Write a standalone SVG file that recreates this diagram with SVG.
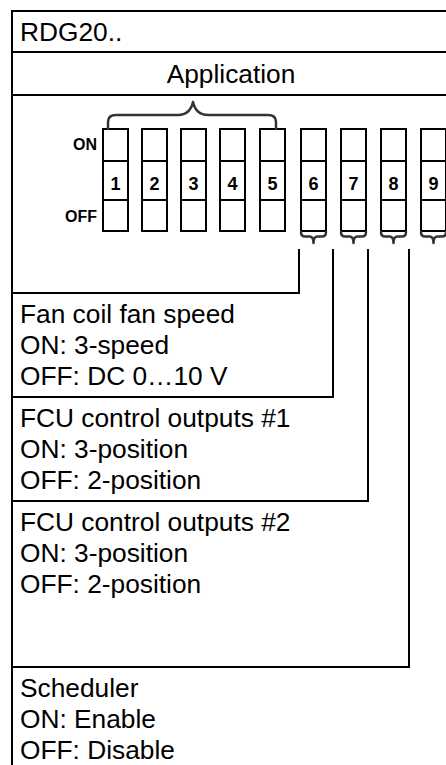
<svg xmlns="http://www.w3.org/2000/svg" width="446" height="765" viewBox="0 0 446 765">
<style>
.t{font-family:"Liberation Sans",Arial,sans-serif;font-size:26.3px;fill:#000}
.b{font-family:"Liberation Sans",Arial,sans-serif;font-weight:bold;fill:#000}
.sw{fill:#fff;stroke:#000;stroke-width:2}
.ln{fill:none;stroke:#000;stroke-width:2}
.br{fill:none;stroke:#333;stroke-width:2.5;stroke-linejoin:round;stroke-linecap:round}
</style>
<defs>
<g id="sw">
<rect class="sw" x="0" y="0" width="25" height="102"/>
<line class="ln" x1="0" y1="32" x2="25" y2="32"/>
<line class="ln" x1="0" y1="71" x2="25" y2="71"/>
</g>
<path id="sb" class="br" d="M0,0 Q0,4.5 4,4.5 H8.5 Q12.5,4.5 12.5,11 Q12.5,4.5 16.5,4.5 H21 Q25,4.5 25,0"/>
</defs>
<rect width="446" height="765" fill="#fff"/>
<g id="frame">
<path class="ln" d="M12,765 V11 H447"/>
<line class="ln" x1="12" y1="52" x2="447" y2="52"/>
<line class="ln" x1="12" y1="95" x2="447" y2="95"/>
</g>
<g id="title"><text class="t" x="20" y="41">RDG20..</text></g>
<g id="application"><text class="t" x="231" y="83" text-anchor="middle">Application</text></g>
<g id="switches">
<text class="b" font-size="16" x="97" y="150" text-anchor="end">ON</text>
<text class="b" font-size="16" x="97" y="222" text-anchor="end">OFF</text>
<g id="sw1"><use href="#sw" x="103" y="129"/><text class="b" font-size="18" x="115.5" y="190" text-anchor="middle">1</text></g>
<g id="sw2"><use href="#sw" x="142" y="129"/><text class="b" font-size="18" x="154.5" y="190" text-anchor="middle">2</text></g>
<g id="sw3"><use href="#sw" x="181" y="129"/><text class="b" font-size="18" x="193.5" y="190" text-anchor="middle">3</text></g>
<g id="sw4"><use href="#sw" x="220" y="129"/><text class="b" font-size="18" x="232.5" y="190" text-anchor="middle">4</text></g>
<g id="sw5"><use href="#sw" x="260" y="129"/><text class="b" font-size="18" x="272.5" y="190" text-anchor="middle">5</text></g>
<g id="sw6"><use href="#sw" x="301" y="129"/><text class="b" font-size="18" x="313.5" y="190" text-anchor="middle">6</text></g>
<g id="sw7"><use href="#sw" x="341" y="129"/><text class="b" font-size="18" x="353.5" y="190" text-anchor="middle">7</text></g>
<g id="sw8"><use href="#sw" x="381" y="129"/><text class="b" font-size="18" x="393.5" y="190" text-anchor="middle">8</text></g>
<g id="sw9"><use href="#sw" x="421" y="129"/><text class="b" font-size="18" x="433.5" y="190" text-anchor="middle">9</text></g>
</g>
<g id="fan-coil">
<text class="t" x="20" y="323">Fan coil fan speed</text>
<text class="t" x="20" y="354">ON: 3-speed</text>
<text class="t" x="20" y="385">OFF: DC 0…10 V</text>
</g>
<g id="fcu1">
<text class="t" x="20" y="427">FCU control outputs #1</text>
<text class="t" x="20" y="458">ON: 3-position</text>
<text class="t" x="20" y="489">OFF: 2-position</text>
</g>
<g id="fcu2">
<text class="t" x="20" y="531">FCU control outputs #2</text>
<text class="t" x="20" y="562">ON: 3-position</text>
<text class="t" x="20" y="593">OFF: 2-position</text>
</g>
<g id="scheduler">
<text class="t" x="20" y="697">Scheduler</text>
<text class="t" x="20" y="728">ON: Enable</text>
<text class="t" x="20" y="759">OFF: Disable</text>
</g>
<g id="connectors">
<path class="br" d="M108,129 V122 Q108,115 116,115 H178 Q190,115 193,102 Q196,115 208,115 H268 Q276,115 276,122 V129"/>
<use href="#sb" x="301" y="232"/>
<use href="#sb" x="341" y="232"/>
<use href="#sb" x="381" y="232"/>
<use href="#sb" x="421" y="232"/>
<path class="ln" d="M299,249 V293 H12"/>
<path class="ln" d="M333,249 V397 H12"/>
<path class="ln" d="M368,249 V501 H12"/>
<path class="ln" d="M409,249 V667 H12"/>
</g>
</svg>
